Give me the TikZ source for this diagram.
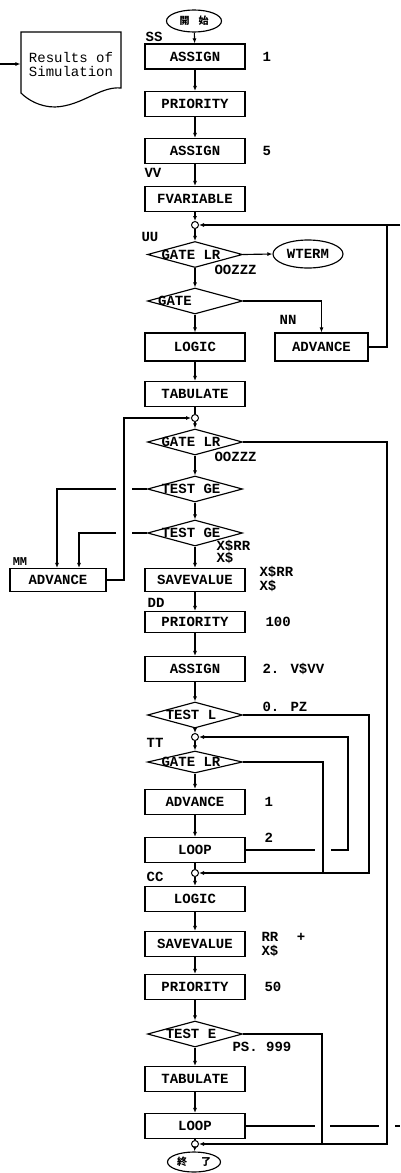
\documentclass[tikz,border=0pt]{standalone}
\usepackage{fontspec}
\newfontfamily\mono{Liberation Mono}
\newfontfamily\cjk{Noto Sans CJK JP}
\usetikzlibrary{shapes.geometric,arrows.meta,calc}
\begin{document}
\begin{tikzpicture}[x=1pt,y=-1pt,
  line width=1.15pt,
  every node/.style={font=\mono\bfseries\fontsize{14}{14}\selectfont, inner sep=0pt},
  blk/.style={draw, rectangle, minimum width=100pt, minimum height=25pt},
  dia/.style={draw, diamond, minimum width=95pt, minimum height=26pt},
  jn/.style={draw, circle, minimum size=7pt, line width=1pt},
  term/.style={draw, ellipse, minimum width=55pt, minimum height=22pt},
  arr/.style={-{Latex[length=5pt,width=4pt]}},
  lbl/.style={anchor=west},
  dl/.style={label={[xshift=-4pt]center:#1}},
]
\useasboundingbox (0,0) rectangle (400,1173);

% Results of simulation document
\draw (21,32) -- (121,32) -- (121,88) .. controls (100,86) and (82,106) .. (55,107)
      .. controls (40,107) and (28,100) .. (21,93) -- cycle;
\node[font=\mono\fontsize{14}{14}\selectfont, align=center, minimum width=100pt] (res) at (71,64) {Results of\\Simulation};
\coordinate (le) at (0,64);
\draw[arr] (le) -- (res.west);

% main column
\node[term] (start) at (194,21) {\cjk\fontsize{10}{10}\selectfont 開\hspace{9pt}始};
\node[blk] (a1) at (195,56.5) {ASSIGN};
\node[blk] (p1) at (195,104) {PRIORITY};
\node[blk] (a2) at (195,151) {ASSIGN};
\node[blk] (fv) at (195,199) {FVARIABLE};
\node[jn] (j1) at (195,225) {};
\node[dia, dl={GATE LR}] (g1) at (195,254.5) {};
\node[term, minimum width=70pt, minimum height=28pt] (wt) at (308,254) {WTERM};
\node[dia, label={[xshift=-20pt]center:GATE}] (g2) at (195,301) {};
\node[blk, minimum height=28pt] (lg1) at (195,347) {LOGIC};
\node[blk, minimum width=93pt, minimum height=28pt] (ad1) at (321.5,347) {ADVANCE};
\node[blk] (tb1) at (195,394) {TABULATE};
\node[jn] (j2) at (195,418) {};
\node[dia, dl={GATE LR}] (g3) at (195,442) {};
\node[dia, dl={TEST GE}] (t1) at (195,489) {};
\node[dia, dl={TEST GE}] (t2) at (195,533) {};
\node[blk, minimum height=23pt] (sv1) at (195,580) {SAVEVALUE};
\node[blk, minimum width=96pt, minimum height=23pt] (adm) at (58,580) {ADVANCE};
\node[blk, minimum height=21pt] (pr2) at (195,622) {PRIORITY};
\node[blk] (as3) at (195,669) {ASSIGN};
\node[dia, dl={TEST L}] (tl) at (195,715) {};
\node[jn] (j3) at (195,737) {};
\node[dia, minimum height=22pt, dl={GATE LR}] (g4) at (195,762) {};
\node[blk] (ad2) at (195,802) {ADVANCE};
\node[blk] (lp1) at (195,850) {LOOP};
\node[jn] (j4) at (195,873) {};
\node[blk] (lg2) at (195,899) {LOGIC};
\node[blk] (sv2) at (195,944) {SAVEVALUE};
\node[blk] (pr3) at (195,987) {PRIORITY};
\node[dia, dl={TEST E}] (te) at (195,1034) {};
\node[blk] (tb2) at (195,1079) {TABULATE};
\node[blk] (lp2) at (195,1126) {LOOP};
\node[jn] (j5) at (195,1144) {};
\node[term, minimum width=53pt, minimum height=20pt] (end) at (194,1162) {\cjk\fontsize{10}{10}\selectfont 終\hspace{14pt}了};

% labels
\node at (154,37) {SS};
\node[lbl] at (262,57) {1};
\node[lbl] at (262,151) {5};
\node at (153,173) {VV};
\node at (150,237) {UU};
\node[lbl] at (214,270) {OOZZZ};
\node at (288,320) {NN};
\node[lbl] at (214,457) {OOZZZ};
\node[lbl, align=left, font=\mono\bfseries\fontsize{14}{11}\selectfont] at (216,552) {X\$RR\\X\$};
\node[font=\mono\bfseries\fontsize{12}{12}\selectfont] at (20,562) {MM};
\node[lbl, align=left] at (259,579) {X\$RR\\X\$};
\node at (156,603) {DD};
\node[lbl] at (265,622) {100};
\node[lbl] at (262,669) {2. V\$VV};
\node[lbl] at (262,707) {0. PZ};
\node at (155,743) {TT};
\node[lbl] at (264,802) {1};
\node[lbl] at (264,838) {2};
\node at (155,877) {CC};
\node[lbl, align=left] at (261,944) {RR\\X\$};
\node at (301,937) {+};
\node[lbl] at (264,987) {50};
\node[lbl] at (232,1047) {PS. 999};

% coordinates for routing
\coordinate (r1) at (387,225);
\coordinate (e1) at (400,225);
\coordinate (r2) at (387,1144);
\coordinate (r3) at (124,418);
\coordinate (gl) at (116,0);
\coordinate (gr) at (132,0);
\coordinate (m1) at (57,0);
\coordinate (m2) at (79,0);
\coordinate (r4) at (369,873);
\coordinate (r5) at (323,873);
\coordinate (r6) at (348,737);
\coordinate (q1) at (315,0);
\coordinate (q2) at (331,0);
\coordinate (r7) at (322,1144);
\coordinate (s1) at (315,0);
\coordinate (s2) at (330,0);
\coordinate (s3) at (379,0);
\coordinate (s4) at (395,0);
\coordinate (s5) at (400,0);

% main flow
\draw[arr] (start) -- (a1);
\draw[arr] (a1) -- (p1);
\draw[arr] (p1) -- (a2);
\draw[arr] (a2) -- (fv);
\draw[arr] (fv) -- (j1);
\draw[arr] (j1) -- (g1);
\draw[arr] (g1.east) -- (wt.west);
\draw[arr] (g1.south) -- (g2.north);
\draw[arr] (g2.east) -| (ad1.north);
\draw[arr] (g2.south) -- (lg1.north);
\draw (ad1.east) -| (r1);
\draw[arr] (e1) -- (j1.east);
\draw[arr] (lg1) -- (tb1);
\draw (tb1) -- (j2);
\draw[arr] (j2) -- (g3.north);
\draw[arr] (g3.south) -- (t1.north);
\draw[arr] (t1.south) -- (t2.north);
\draw[arr] (t2.south) -- (sv1.north);
\draw[arr] (g3.east) -| (r2) -- (j5.east);
% left loop with crossing gaps
\draw (t1.west) -- (t1.west -| gr);
\draw[arr] (t1.west -| gl) -| (adm.north -| m1);
\draw (t2.west) -- (t2.west -| gr);
\draw[arr] (t2.west -| gl) -| (adm.north -| m2);
\draw[arr] (adm.east) -| (r3) -- (j2.west);
\draw[arr] (sv1) -- (pr2);
\draw[arr] (pr2) -- (as3);
\draw[arr] (as3) -- (tl.north);
\draw[arr] (tl.south) -- (j3);
\draw[arr] (j3) -- (g4.north);
\draw[arr] (tl.east) -| (r4) -- (j4.east);
\draw (g4.east) -| (r5);
\draw[arr] (g4.south) -- (ad2.north);
\draw[arr] (ad2) -- (lp1);
\draw (lp1.east) -- (lp1.east -| q1);
\draw[arr] (lp1.east -| q2) -| (r6) -- (j3.east);
\draw (lp1) -- (j4);
\draw[arr] (j4) -- (lg2);
\draw[arr] (lg2) -- (sv2);
\draw[arr] (sv2) -- (pr3);
\draw[arr] (pr3) -- (te.north);
\draw[arr] (te.south) -- (tb2.north);
\draw (te.east) -| (r7);
\draw[arr] (tb2) -- (lp2);
\draw (lp2) -- (j5);
\draw[arr] (j5) -- (end);
\draw (lp2.east) -- (lp2.east -| s1);
\draw (lp2.east -| s2) -- (lp2.east -| s3);
\draw (lp2.east -| s4) -- (lp2.east -| s5);
\end{tikzpicture}
\end{document}
